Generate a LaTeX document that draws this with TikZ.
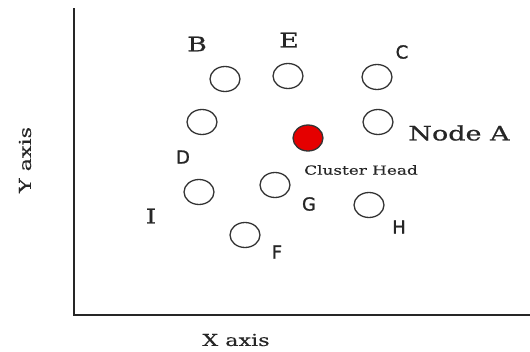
\documentclass[tikz,border=0pt]{standalone}
\usepackage{fontspec}
\usetikzlibrary{shapes.geometric}
\newfontfamily\serifw[FakeStretch=1.35,FakeBold=0.6]{DejaVu Serif}
\newfontfamily\serifs[FakeStretch=1.35,FakeBold=0.3]{DejaVu Serif}
\newfontfamily\sansl[FakeBold=1.2]{DejaVu Sans}
\begin{document}
\begin{tikzpicture}[x=1pt,y=-1pt,
  circ/.style={ellipse,draw=black!80,line width=1.3pt,minimum width=30pt,minimum height=25pt,inner sep=0pt},
  chead/.style={circ,fill=red!90!black,minimum height=26pt},
  lserif/.style={font=\serifw\fontsize{20}{20}\selectfont,inner sep=0pt,text=black!85},
  lsmall/.style={font=\serifs\fontsize{12.5}{12.5}\selectfont,inner sep=0pt,text=black!85},
  laxis/.style={font=\serifs\fontsize{16.5}{16.5}\selectfont,inner sep=0pt,text=black!85},
  lsans/.style={font=\sansl\fontsize{18}{18}\selectfont,inner sep=0pt,text=black!85},
  axisline/.style={line width=1.8pt,draw=black!85}]
\useasboundingbox (0,0) rectangle (530,351);
% axes
\coordinate (top) at (74,8);
\coordinate (origin) at (74,315);
\coordinate (right) at (530,315);
\draw[axisline] (top) -- (origin) -- (right);
\node[laxis] (xlab) at (236,340) {X axis};
\node[laxis,rotate=90] (ylab) at (25,160) {Y axis};
% nodes
\node[circ] (nB) at (225,79) {};
\node[circ] (nD) at (202,122) {};
\node[circ] (nE) at (288,76) {};
\node[circ] (nC) at (377,77) {};
\node[circ] (nA) at (378,122) {};
\node[chead] (nCH) at (308,138) {};
\node[circ] (nI) at (199,192) {};
\node[circ] (nG) at (275,185) {};
\node[circ] (nF) at (245,235) {};
\node[circ] (nH) at (369,205) {};
% labels
\node[lserif] (tB) at (197,44) {B};
\node[lserif] (tE) at (289,40) {E};
\node[lsans] (tC) at (402,52) {C};
\node[lserif] (tA) at (459,133) {Node A};
\node[lsmall] (tCH) at (361,170) {Cluster Head};
\node[lsans] (tD) at (183,157) {D};
\node[lserif] (tI) at (151,216) {I};
\node[lsans] (tG) at (309,204) {G};
\node[lsans] (tH) at (399,227) {H};
\node[lsans] (tF) at (277,252) {F};
\end{tikzpicture}
\end{document}
